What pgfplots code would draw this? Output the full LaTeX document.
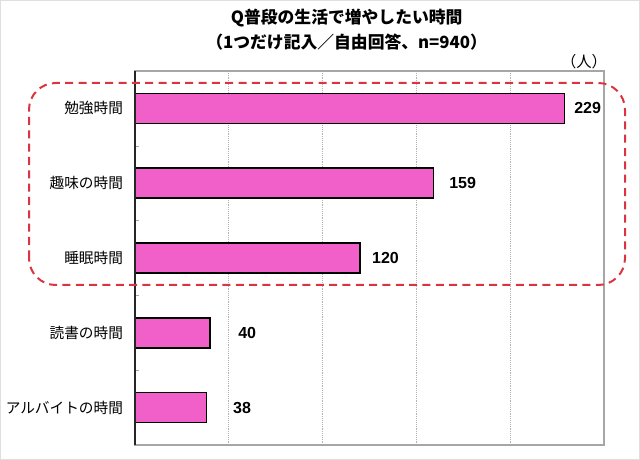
\documentclass[border=0pt]{standalone}
\usepackage{fontspec}
\setmainfont{Noto Sans CJK JP}
\newfontfamily\numfont{Liberation Sans}
\usepackage{pgfplots}
\pgfplotsset{compat=1.18}
\definecolor{barpink}{HTML}{F060C8}
\definecolor{dashred}{HTML}{D93440}
\begin{document}
\begin{tikzpicture}
\useasboundingbox (0,0) rectangle (480pt,345pt);
\draw[gray!25, line width=0.75pt] (0.375pt,0.375pt) rectangle (479.625pt,344.625pt);
\node[font=\fontsize{12.6pt}{14pt}\selectfont\bfseries] at (260pt,331.5pt) {Q普段の生活で増やしたい時間};
\node[font=\fontsize{12.6pt}{14pt}\selectfont\bfseries] at (260pt,313.5pt) {（1つだけ記入／自由回答、n=940）};
\node[font=\fontsize{11.5pt}{13pt}\selectfont] at (438pt,298.5pt) {（人）};
\begin{axis}[
  at={(101.25pt,11.25pt)}, anchor=south west,
  scale only axis, width=351.75pt, height=280.5pt,
  xbar, bar width=22.5pt,
  xmin=0, xmax=250, xtick={0,50,100,150,200,250}, xticklabels={},
  xmajorgrids, grid style={gray!60, densely dotted, line width=0.6pt},
  ymin=-0.5, ymax=4.5, y dir=reverse,
  ytick={0,1,2,3,4},
  yticklabels={勉強時間,趣味の時間,睡眠時間,読書の時間,アルバイトの時間},
  yticklabel style={font=\fontsize{11pt}{13pt}\selectfont, xshift=-5.5pt},
  minor ytick={0.5,1.5,2.5,3.5},
  major tick length=0pt, minor tick length=3pt,
  tick align=inside, ytick pos=left, xtick pos=bottom,
  minor tick style={gray!70},
  axis line style={gray!70, line width=0.8pt},
  clip=false,
]
\addplot[fill=barpink, draw=black, line width=1.1pt] coordinates {(229,0) (159,1) (120,2) (40,3) (38,4)};
\draw[black!85, line width=1pt] (rel axis cs:0,0) -- (rel axis cs:0,1);
\begin{scope}[every node/.style={anchor=west, inner sep=0pt, font=\numfont\fontsize{12pt}{13pt}\selectfont\bfseries}]
\node at (axis cs:234,0) {229};
\node at (axis cs:167.4,1) {159};
\node at (axis cs:126.3,2) {120};
\node at (axis cs:54.9,3) {40};
\node at (axis cs:52.2,4) {38};
\end{scope}
\end{axis}
\draw[dashred, line width=1.5pt, dash pattern=on 6pt off 4pt, rounded corners=20pt] (21.75pt,131.25pt) rectangle (468.75pt,282.75pt);
\end{tikzpicture}
\end{document}
